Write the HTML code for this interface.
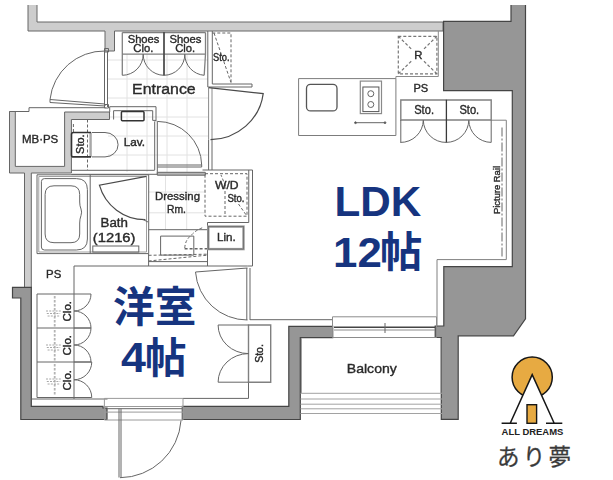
<!DOCTYPE html>
<html><head><meta charset="utf-8"><title>Floor plan</title>
<style>
html,body{margin:0;padding:0;background:#fff;}
body{width:613px;height:480px;overflow:hidden;font-family:"Liberation Sans",sans-serif;}
svg{display:block;}
svg text{font-family:"Liberation Sans",sans-serif;}
</style></head><body>
<svg width="613" height="480" viewBox="0 0 613 480">
<rect width="613" height="480" fill="#fff"/>
<g stroke="#e2e2e2" stroke-width="1" fill="none">
<path d="M108 60H208"/>
<path d="M108 79H208"/>
<path d="M108 98H208"/>
<path d="M108 117H208"/>
<path d="M108 136H208"/>
<path d="M108 155H208"/>
<path d="M127 54V172"/>
<path d="M147 54V172"/>
<path d="M167 54V172"/>
<path d="M187 54V172"/>
<path d="M149 192H206"/>
<path d="M149 212.8H206"/>
<path d="M165.5 175V230"/>
<path d="M186.7 175V230"/>
</g>
<g fill="#cdcdcd" stroke="#666666" stroke-width="1">
<path d="M28 5V31H105V51H114.5V31H443V22H37V5"/>
<path d="M9.5 111.5V173H24.5V288H31.3V173H71.4V119.5H109.5V112H64.6V166.4H15.3V111.5Z"/>
</g>
<g fill="#969696" stroke="#454545" stroke-width="1.2">
<path d="M511 5V21.3H443.6V90.6H512.3V266.7H443.8V326H435.2V337.5H441.3V419.3H458.2V335.8H513.5L525.5 318.8V5"/>
<path d="M12.5 287.3H31.3V406.3H103V408H107V419.5H20.8V298H12.5Z"/>
<path d="M182.3 406.3H288.8V326.3H332.7V337.7H300.3V419.5H182.3Z"/>
</g>
<g fill="none" stroke="#666666" stroke-width="1">
<path d="M9.5 111.5H29V107.7H105.5"/>
<path d="M104.5 51V107M107.5 51V107"/>
<path d="M105 51A54.5 54.5 0 0 0 50 99.5M50 99.5V102.5L105 106L105 104Z"/>
<path d="M104.5 48.5H108.5V52H104.5ZM104.5 104.5H108.5V108H104.5Z"/>
<path d="M122.3 32.5V54.1H205.5V32.5M122.3 32.5H205.5M164 32V75.3M122.3 54.1V75.3M205.5 54.1L204.2 75.3" stroke="#808080" stroke-width="1.3"/>
<path d="M122.3 75.3A21 21 0 0 0 143.2 54.1A21 21 0 0 0 164 75.3A21 21 0 0 0 184.8 54.1A21 21 0 0 0 204.2 75.3"/>
<path d="M207.8 31V87M212.3 31V84H252V87H207.8"/>
<path d="M208.6 139.5V170M212 139.5V170"/><path d="M208.6 87.7V139.5M212 87.7V139.5" stroke="#8a8a8a"/>
<path d="M208.6 87.7L263.2 93.6A54.5 52.5 0 0 1 210.5 139.7" stroke="#4a4a4a" stroke-width="1.2"/>
<path d="M154.7 121.4V170M157.3 121.4V174M157.3 165H201.7V167H157.3M157.3 121.4A44.5 44.5 0 0 1 201.7 165"/>
<path d="M71.4 170.3H154.7M71.4 174.3H157.3"/>
<path d="M109.7 112V106.7H156V121.4M113.6 119.5V110.7H152.7V120.4H156"/>
<rect x="121.4" y="111.6" width="22.6" height="9.2" rx="1" stroke="#333" stroke-width="1.5"/>
<path d="M91.9 132.5H105A13.1 12.2 0 0 1 105 156.9H91.9"/><path d="M90.6 132.5V156.9" stroke="#a8a8a8" stroke-width="2.4"/>
<path d="M37 174.8H148.7V253.6H37Z"/><path d="M38.8 176.5H146.5V252H38.8Z" stroke="#a0a0a0"/>
<path d="M90.2 174.8V253.6"/>
<path d="M44.4 178.6H76.4Q87.4 178.6 87.4 189.6V239Q87.4 250 76.4 250H44.4Q41.4 250 41.4 247V181.6Q41.4 178.6 44.4 178.6Z"/>
<path d="M54 185.8H71Q79.7 185.8 79.7 194.5V202Q79.7 206 81 209Q82.2 212 81 215.5Q79.7 219 79.7 223V234Q79.7 242.7 71 242.7H54Q45.1 242.7 45.1 234V194.5Q45.1 185.8 54 185.8Z"/>
<path d="M146.5 176.4L99.4 185.1A47.5 47.5 0 0 0 145.4 219.7" stroke="#4a4a4a" stroke-width="1.2"/><path d="M143 219.5L148 222"/>
<rect x="92.8" y="246" width="46" height="6.1"/>
<path d="M148.6 229.7H207.5M160.6 236.1H193.8V255.1H160.6ZM148.6 261.6H207.5"/>
<path d="M252.5 170V266H247.5M248.75 170V222.5H207.5V266"/>
<path d="M202.5 170H252.5"/>
<path d="M157.3 172.3H205.3V175.2H157.3Z" fill="#b5b5b5"/>
<path d="M74 399V266H247.5"/>
<path d="M148.6 253.6V266"/>
<path d="M31.3 399H107.5M183 398.4H248.5V382.2"/>
<path d="M246.8 268V320M250 268V320M247.5 268L195.5 272A52 52 0 0 0 247.5 320"/>
<path d="M248.5 325H270.7V382.2H248.5Z" stroke="#808080" stroke-width="1.4"/><path d="M248.5 325H218.1A30.4 28.6 0 0 0 248.5 353.6A30.4 28.6 0 0 0 218.1 382.2H248.5"/>
<path d="M250 319.7H333"/>
<path d="M37 294H74M37 328H74M37 362H74M37 397.5H74M37 294V397.5"/>
<path d="M74 294H91.0A17.0 17.0 0 0 1 74 311.0A17.0 17.0 0 0 1 91.0 328H74"/>
<path d="M74 328H91.0A17.0 17.0 0 0 1 74 345.0A17.0 17.0 0 0 1 91.0 362H74"/>
<path d="M74 362H91.75A17.75 17.75 0 0 1 74 379.75A17.75 17.75 0 0 1 91.75 397.5H74"/>
<path d="M298.6 78.6H395.9V135.5H298.6Z" stroke="#7c7c7c"/>
<rect x="306.5" y="84.4" width="30.5" height="26.5" rx="4" stroke="#555" stroke-width="1.3"/>
<rect x="360.3" y="81.1" width="21.2" height="32.5" stroke="#8a8a8a" stroke-width="1.2"/>
<rect x="362.9" y="87" width="16" height="24.6" stroke="#555"/>
<circle cx="370.8" cy="93.7" r="3"/><circle cx="370.8" cy="104.5" r="3"/>
<path d="M355.5 122.7H385"/><circle cx="355.5" cy="122.7" r="0.9" fill="#444"/><circle cx="385" cy="122.7" r="0.9" fill="#444"/>
<path d="M395.9 78.6V76.5H438.3V31" stroke="#8a8a8a"/>
<path d="M400.8 100H491.2V120H400.8Z" stroke="#808080" stroke-width="1.4"/><path d="M400.8 120V142.4M491.2 120V142.4"/>
<path d="M400.3 142.4A22.6 22.6 0 0 0 423.3 120.2A22.6 22.6 0 0 0 446.4 142.4A22.6 22.6 0 0 0 468.8 120.2A22.6 22.6 0 0 0 491.2 142.4"/>
<path d="M446.4 99.7V142.4M164 32V75.3" stroke="#3a3a3a" stroke-width="1.3"/>
<path d="M491.2 120.2H506.3V259.6H437V326" stroke="#808080"/>
<path d="M104.4 398.4H183V420H104.4ZM104.4 406.5H183M104.4 412.1H183" stroke="#9a9a9a"/>
<path d="M107 408.7H182"/>
<path d="M119 408.7V477.5M121 408.7V477.5M120 477.7A61.5 61.5 0 0 0 181 420.5"/>
<path d="M332.5 316.8H436.5V337.5H332.5ZM334 330H435" stroke="#8c8c8c"/><path d="M334 327.3H435" stroke="#444" stroke-width="1.4"/>
<path d="M385 323V333"/>
<path d="M300.5 393.3H442M300.5 399H442M300.5 404.2H442M300.5 408.8H442M300.5 413.5H442M301.5 338V393M440.8 338V393" stroke="#a2a2a2"/>
</g>
<g fill="none" stroke="#666666" stroke-width="1" stroke-dasharray="3 2">
<path d="M212.3 33H231V82.5M214 33L231 82.5"/>
<path d="M398.3 36.3H436.9V73.8H398.3ZM398.3 36.3L411.5 49.2M436.9 36.3L423.7 49.2M398.3 73.8L411.5 61M436.9 73.8L423.7 61" stroke="#777" stroke-width="1.2"/>
<path d="M205 173.7H247V216.2H205ZM225 186V216.2M225.5 186L221 175M238.5 204L247 216.2"/>
<path d="M87.5 119.5V170M73.4 124V132"/>
<path d="M184.8 248Q185 240 191.9 234.6Q196 230 202.6 227.7M148.6 255.3L207 254.2M148.6 261L207 255.2"/>
</g>
<g fill="none" stroke="#b4b4b4" stroke-width="1.8" stroke-dasharray="2.5 1.5">
<path d="M54.7 296V327"/>
<path d="M54.7 330V361"/>
<path d="M54.7 364V395"/>
</g>
<g stroke="#a8a8a8" stroke-width="1" stroke-dasharray="2 1.2" fill="none">
<path d="M46.0 311H61.0"/>
<path d="M46.8 313.5H60.2"/>
<path d="M47.6 316H59.4"/>
<path d="M46.0 345H61.0"/>
<path d="M46.8 347.5H60.2"/>
<path d="M47.6 350H59.4"/>
<path d="M46.0 379H61.0"/>
<path d="M46.8 381.5H60.2"/>
<path d="M47.6 384H59.4"/>
</g>
<path d="M184.6 248.7H207.5" stroke="#666666" stroke-width="1.5" stroke-dasharray="3 2" fill="none"/>
<path d="M502 127.5V258" stroke="#666666" stroke-width="1" stroke-dasharray="9 2 2 2" fill="none"/>
<path d="M91 132.5H73.5Q71.5 132.5 71.5 134.5V154.9Q71.5 156.9 73.5 156.9H91" stroke="#333" stroke-width="1.6" fill="none"/>
<rect x="208.3" y="226.6" width="35.2" height="22.5" fill="none" stroke="#9a9a9a" stroke-width="2.4"/>
<rect x="208.3" y="226.6" width="35.2" height="22.5" fill="none" stroke="#666666" stroke-width="0.7"/>
<g font-family="Liberation Sans, sans-serif" style="filter:grayscale(1)" stroke="#2a2a2a" stroke-width="0.38">
<text x="127.7" y="43" font-size="11" fill="#2a2a2a" font-weight="normal" text-anchor="start" textLength="31.7" lengthAdjust="spacingAndGlyphs">Shoes</text>
<text x="133.3" y="51.7" font-size="11.5" fill="#2a2a2a" font-weight="normal" text-anchor="start" textLength="20" lengthAdjust="spacingAndGlyphs">Clo.</text>
<text x="169.6" y="43" font-size="11" fill="#2a2a2a" font-weight="normal" text-anchor="start" textLength="31.9" lengthAdjust="spacingAndGlyphs">Shoes</text>
<text x="175.2" y="51.7" font-size="11.5" fill="#2a2a2a" font-weight="normal" text-anchor="start" textLength="20" lengthAdjust="spacingAndGlyphs">Clo.</text>
<text x="132.1" y="94.1" font-size="15.5" fill="#2a2a2a" font-weight="normal" text-anchor="start" textLength="63.6" lengthAdjust="spacingAndGlyphs">Entrance</text>
<text x="213" y="61.3" font-size="10" fill="#2a2a2a" font-weight="normal" text-anchor="start" textLength="16.5" lengthAdjust="spacingAndGlyphs">Sto.</text>
<text x="21.9" y="143" font-size="11.5" fill="#2a2a2a" font-weight="normal" text-anchor="start" textLength="36.4" lengthAdjust="spacingAndGlyphs">MB·PS</text>
<text x="123.8" y="146.3" font-size="11" fill="#2a2a2a" font-weight="normal" text-anchor="start" textLength="21.3" lengthAdjust="spacingAndGlyphs">Lav.</text>
<text x="83.8" y="153.9" font-size="11.3" fill="#2a2a2a" font-weight="normal" text-anchor="start" textLength="19.5" lengthAdjust="spacingAndGlyphs" transform="rotate(-90 83.8 153.9)">Sto.</text>
<text x="155" y="199.8" font-size="11.5" fill="#2a2a2a" font-weight="normal" text-anchor="start" textLength="45" lengthAdjust="spacingAndGlyphs">Dressing</text>
<text x="167" y="212.5" font-size="11.5" fill="#2a2a2a" font-weight="normal" text-anchor="start" textLength="19" lengthAdjust="spacingAndGlyphs">Rm.</text>
<text x="215" y="188.5" font-size="11.5" fill="#2a2a2a" font-weight="normal" text-anchor="start" textLength="23.6" lengthAdjust="spacingAndGlyphs">W/D</text>
<text x="227.5" y="202.2" font-size="10" fill="#2a2a2a" font-weight="normal" text-anchor="start" textLength="17" lengthAdjust="spacingAndGlyphs">Sto.</text>
<text x="217" y="241.3" font-size="11.5" fill="#2a2a2a" font-weight="normal" text-anchor="start" textLength="18.7" lengthAdjust="spacingAndGlyphs">Lin.</text>
<text x="100.5" y="227.4" font-size="12.5" fill="#2a2a2a" font-weight="normal" text-anchor="start" textLength="27.4" lengthAdjust="spacingAndGlyphs">Bath</text>
<text x="92.8" y="241.8" font-size="12.5" fill="#2a2a2a" font-weight="normal" text-anchor="start" textLength="42.7" lengthAdjust="spacingAndGlyphs">(1216)</text>
<text x="46.1" y="278.3" font-size="11.8" fill="#2a2a2a" font-weight="normal" text-anchor="start" textLength="15.2" lengthAdjust="spacingAndGlyphs">PS</text>
<text x="413.4" y="91.9" font-size="11.3" fill="#2a2a2a" font-weight="normal" text-anchor="start" textLength="14.8" lengthAdjust="spacingAndGlyphs">PS</text>
<text x="414.2" y="113.9" font-size="12" fill="#2a2a2a" font-weight="normal" text-anchor="start" textLength="19.8" lengthAdjust="spacingAndGlyphs">Sto.</text>
<text x="459.4" y="113.9" font-size="12" fill="#2a2a2a" font-weight="normal" text-anchor="start" textLength="19.8" lengthAdjust="spacingAndGlyphs">Sto.</text>
<text x="414.2" y="59.4" font-size="11.3" fill="#2a2a2a" font-weight="normal" text-anchor="start" textLength="8.2" lengthAdjust="spacingAndGlyphs">R</text>
<text x="346.8" y="372.6" font-size="13.5" fill="#2a2a2a" font-weight="normal" text-anchor="start" textLength="50" lengthAdjust="spacingAndGlyphs">Balcony</text>
<text x="262.8" y="362.8" font-size="10.5" fill="#2a2a2a" font-weight="normal" text-anchor="start" textLength="18.7" lengthAdjust="spacingAndGlyphs" transform="rotate(-90 262.8 362.8)">Sto.</text>
<text x="71" y="321.5" font-size="11" fill="#2a2a2a" font-weight="normal" text-anchor="start" textLength="20.5" lengthAdjust="spacingAndGlyphs" transform="rotate(-90 71 321.5)">Clo.</text>
<text x="71" y="355.5" font-size="11" fill="#2a2a2a" font-weight="normal" text-anchor="start" textLength="20.5" lengthAdjust="spacingAndGlyphs" transform="rotate(-90 71 355.5)">Clo.</text>
<text x="71" y="390.5" font-size="11" fill="#2a2a2a" font-weight="normal" text-anchor="start" textLength="20.5" lengthAdjust="spacingAndGlyphs" transform="rotate(-90 71 390.5)">Clo.</text>
<text x="499.5" y="214" font-size="9.5" fill="#2a2a2a" font-weight="normal" text-anchor="start" textLength="48" lengthAdjust="spacingAndGlyphs" transform="rotate(-90 499.5 214)">Picture Rail</text>
</g>
<text x="334.4" y="216.2" font-size="42.5" font-weight="bold" fill="#16347f" text-anchor="start" textLength="86.8" lengthAdjust="spacingAndGlyphs" style="font-family:'Liberation Sans','Noto Sans CJK JP',sans-serif">LDK</text>
<text x="333" y="266.6" font-size="42.3" font-weight="bold" fill="#16347f" text-anchor="start" textLength="48.8" lengthAdjust="spacingAndGlyphs" style="font-family:'Liberation Sans','Noto Sans CJK JP',sans-serif">12</text>
<text x="379.9" y="266.9" font-size="42.3" font-weight="bold" fill="#16347f" text-anchor="start" style="font-family:'Liberation Sans','Noto Sans CJK JP',sans-serif">帖</text>
<text x="113.1" y="322" font-size="41.5" font-weight="bold" fill="#16347f" text-anchor="start" textLength="83.4" lengthAdjust="spacingAndGlyphs" style="font-family:'Liberation Sans','Noto Sans CJK JP',sans-serif">洋室</text>
<text x="121.1" y="372.3" font-size="42" font-weight="bold" fill="#16347f" text-anchor="start" textLength="24.9" lengthAdjust="spacingAndGlyphs" style="font-family:'Liberation Sans','Noto Sans CJK JP',sans-serif">4</text>
<text x="145" y="373.1" font-size="41.5" font-weight="bold" fill="#16347f" text-anchor="start" style="font-family:'Liberation Sans','Noto Sans CJK JP',sans-serif">帖</text>
<circle cx="532.2" cy="377.2" r="20.1" fill="#e7aa42" stroke="#161616" stroke-width="1.5"/>
<path d="M532.2 374.2L510 423.3H554.4Z" fill="#fff" stroke="none"/>
<path d="M510.2 423.3L532.2 374.6L554.2 423.3M501.6 423.3H516.9M546 423.3H562.3" fill="none" stroke="#161616" stroke-width="1.5" stroke-linejoin="miter"/>
<rect x="527" y="404.7" width="9.6" height="18.6" fill="#e7aa42" stroke="#161616" stroke-width="1.4"/>
<text x="501.6" y="435" font-size="9.6" font-weight="bold" fill="#222" text-anchor="start" textLength="61.7" lengthAdjust="spacingAndGlyphs" style="font-family:'Liberation Sans',sans-serif">ALL DREAMS</text>
<text x="497.1" y="464.6" font-size="22.5" fill="#3a3a3a" stroke="#3a3a3a" stroke-width="0.27" text-anchor="start" textLength="73.8" lengthAdjust="spacing" style="font-family:'Liberation Sans','Noto Sans CJK JP',sans-serif">あり夢</text>
</svg>
</body></html>
